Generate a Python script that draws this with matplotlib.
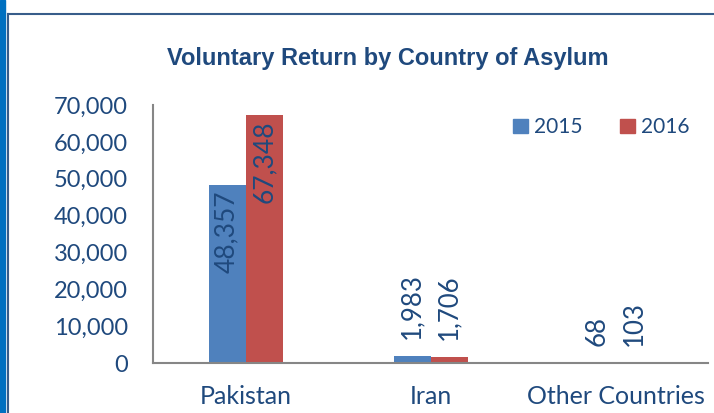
import matplotlib.pyplot as plt
import numpy as np
from matplotlib.lines import Line2D
from matplotlib.patches import Rectangle

categories = ['Pakistan', 'Iran', 'Other Countries']
returns2015 = [48357, 1983, 68]
returns2016 = [67348, 1706, 103]
seriesNames = ['2015', '2016']
yTicks = [0, 10000, 20000, 30000, 40000, 50000, 60000, 70000]

textColor = '#1F497D'
blue = '#4F81BD'
red = '#C0504D'

plt.rcParams['font.family'] = ['Lato', 'DejaVu Sans']

fig = plt.figure(figsize=(7.14, 4.13), dpi=100)
ax = fig.add_axes([153/714, 1-363/413, 555/714, 258/413])

x = np.arange(len(categories))
barWidth = 0.2
bars15 = ax.bar(x - barWidth/2, returns2015, barWidth, color=blue, label=seriesNames[0])
bars16 = ax.bar(x + barWidth/2, returns2016, barWidth, color=red, label=seriesNames[1])

# big bars get labels inside, small ones above
for bars in (bars15, bars16):
    for b in bars:
        h = b.get_height()
        cx = b.get_x() + b.get_width()/2
        if h > 20000:
            ax.annotate(f'{h:,.0f}', (cx, h), xytext=(0, -4), textcoords='offset points',
                        rotation=90, ha='center', va='top', color=textColor, fontsize=19)
        else:
            ax.annotate(f'{h:,.0f}', (cx, h), xytext=(0, 12), textcoords='offset points',
                        rotation=90, ha='center', va='bottom', color=textColor, fontsize=18.5)

ax.set_xlim(-0.5, 2.5)
ax.set_ylim(0, 70000)
ax.set_yticks(yTicks)
ax.set_yticklabels([f'{t:,}' for t in yTicks])
ax.set_xticks(x)
ax.set_xticklabels(categories)
ax.tick_params(axis='both', length=0, colors=textColor)
ax.tick_params(axis='y', pad=18, labelsize=17)
ax.tick_params(axis='x', pad=16, labelsize=18)
for side in ('top', 'right'):
    ax.spines[side].set_visible(False)
for side in ('left', 'bottom'):
    ax.spines[side].set_color('#868686')
    ax.spines[side].set_linewidth(1.5)

handles = [Rectangle((0, 0), 1, 1, color=blue), Rectangle((0, 0), 1, 1, color=red)]
ax.legend(handles, seriesNames, loc='upper right', bbox_to_anchor=(1.0, 1.025), ncol=2,
          frameon=False, fontsize=15, labelcolor=textColor, handlelength=0.7,
          handleheight=0.7, handletextpad=0.3, columnspacing=1.8)

fig.text(388/714, 1-58/413, 'Voluntary Return by Country of Asylum', family='Liberation Sans',
         fontweight='bold', fontsize=17, color=textColor, ha='center', va='center')

# frame around the chart
fig.patches.append(Rectangle((0, 0), 5/714, 1, transform=fig.transFigure, color='#0070C0'))
fig.lines.append(Line2D([7.5/714, 7.5/714], [0, 1-13.5/413], transform=fig.transFigure, color='#385D8A', lw=1.5))
fig.lines.append(Line2D([7.5/714, 1], [1-13.5/413, 1-13.5/413], transform=fig.transFigure, color='#385D8A', lw=1.5))

fig.savefig('out.png', dpi=100)
